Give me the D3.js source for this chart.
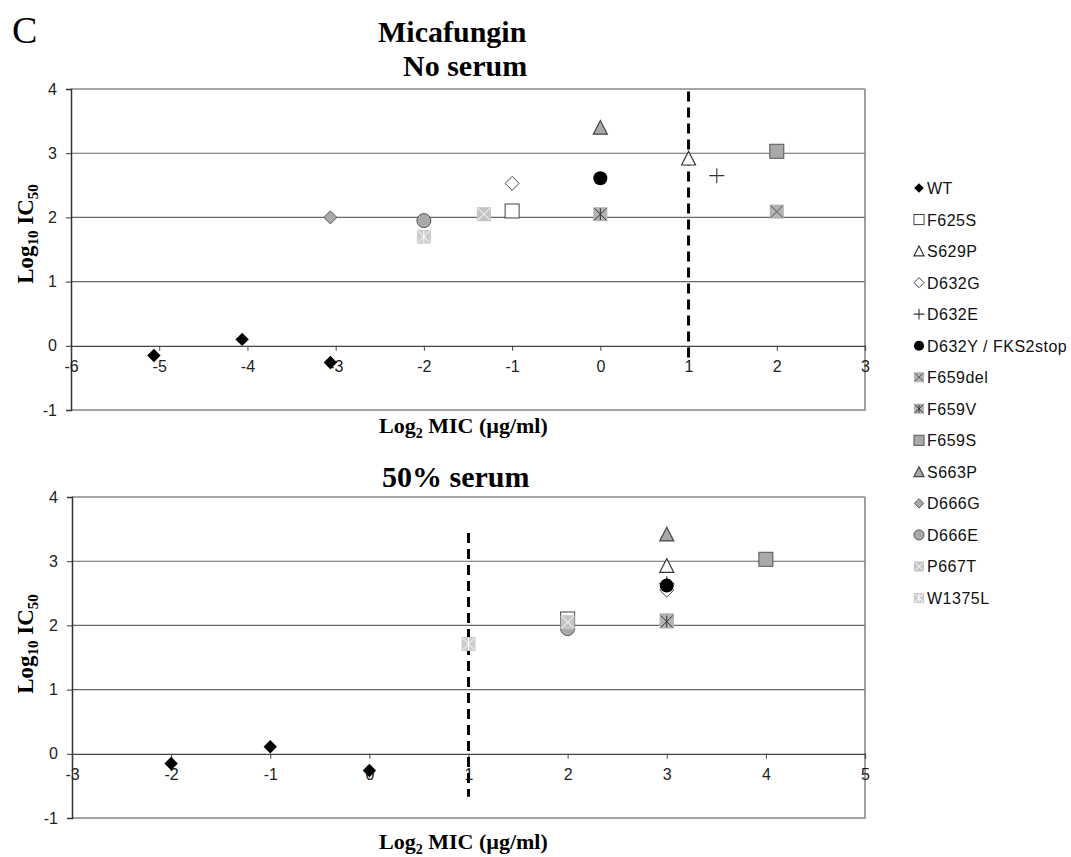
<!DOCTYPE html>
<html>
<head>
<meta charset="utf-8">
<script src="https://cdnjs.cloudflare.com/ajax/libs/d3/7.8.5/d3.min.js"></script>
<style>
  body { margin: 0; background: #fff; }
  .tick text { font-family: "Liberation Sans", Arial, sans-serif; font-size: 16px; fill: #222; }
  .serif { font-family: "Liberation Serif", "Times New Roman", serif; }
</style>
</head>
<body>
<div id="chart"></div>
<script>
// series names, in legend order (drawing order too)
const seriesNames = ['WT', 'F625S', 'S629P', 'D632G', 'D632E', 'D632Y / FKS2stop', 'F659del',
  'F659V', 'F659S', 'S663P', 'D666G', 'D666E', 'P667T', 'W1375L']

// wild type strains (three isolates)
const wtNoSerumX = [-5.06, -4.06, -3.06]
const wtNoSerumY = [-0.15, 0.10, -0.26]
const wtSerumX = [-2, -1, 0]
const wtSerumY = [-0.15, 0.11, -0.26]

// mutants F625S .. W1375L (seriesNames[1..13])
const mutNoSerumX = [-1, 1, -1, 1.32, 0, 2, 0, 2, 0, -3.06, -2, -1.32, -2]
const mutNoSerumY = [2.10, 2.92, 2.53, 2.65, 2.61, 2.09, 2.05, 3.03, 3.40, 2.00, 1.95, 2.05, 1.70]
const mutSerumX = [2, 3, 3, 3, 3, 3, 3, 4, 3, 2, 2, 2, 1]
const mutSerumY = [2.10, 2.93, 2.55, 2.65, 2.62, 2.08, 2.06, 3.03, 3.42, 2.00, 1.95, 2.05, 1.71]

// breakpoint lines
const breakNoSerum = { x: 1, y0: -0.22, y1: 3.96 }
const breakSerum = { x: 1, y0: -0.67, y1: 3.44 }

const yTicks = [-1, 0, 1, 2, 3, 4]
const xTicksNoSerum = [-6, -5, -4, -3, -2, -1, 0, 1, 2, 3]
const xTicksSerum = [-3, -2, -1, 0, 1, 2, 3, 4, 5]

// marker look for each series
const markerStyle = {
  'WT': { shape: 'diamond', fill: '#000', stroke: 'none', size: 6.7 },
  'F625S': { shape: 'square', fill: '#fff', stroke: '#444', size: 7 },
  'S629P': { shape: 'triangle', fill: '#fff', stroke: '#333', size: 7 },
  'D632G': { shape: 'diamond', fill: '#fff', stroke: '#444', size: 7 },
  'D632E': { shape: 'plus', fill: 'none', stroke: '#333', size: 7.5 },
  'D632Y / FKS2stop': { shape: 'circle', fill: '#000', stroke: 'none', size: 7 },
  'F659del': { shape: 'squareX', fill: '#b4b4b4', stroke: '#555', size: 7 },
  'F659V': { shape: 'squareStar', fill: '#b4b4b4', stroke: '#333', size: 7 },
  'F659S': { shape: 'square', fill: '#a9a9a9', stroke: '#555', size: 7 },
  'S663P': { shape: 'triangle', fill: '#a9a9a9', stroke: '#444', size: 7 },
  'D666G': { shape: 'diamond', fill: '#a9a9a9', stroke: '#555', size: 6.5 },
  'D666E': { shape: 'circle', fill: '#a9a9a9', stroke: '#555', size: 7 },
  'P667T': { shape: 'squareX', fill: '#c4c4c4', stroke: '#fff', size: 7 },
  'W1375L': { shape: 'squareStar', fill: '#cccccc', stroke: '#fff', size: 7 }
}

const width = 1071, height = 857

const svg = d3.select('#chart').append('svg')
  .attr('width', width)
  .attr('height', height)

function drawMarker(g, name, cx, cy, k) {
  const st = markerStyle[name]
  const s = st.size * k
  const m = g.append('g').attr('transform', `translate(${cx},${cy})`)
  if (st.shape === 'diamond') {
    m.append('path').attr('d', `M0,${-s}L${s},0L0,${s}L${-s},0Z`)
      .attr('fill', st.fill).attr('stroke', st.stroke).attr('stroke-width', 1)
  } else if (st.shape === 'circle') {
    m.append('circle').attr('r', s).attr('fill', st.fill).attr('stroke', st.stroke).attr('stroke-width', 1)
  } else if (st.shape === 'triangle') {
    m.append('path').attr('d', `M0,${-s}L${s},${s * 0.95}L${-s},${s * 0.95}Z`)
      .attr('fill', st.fill).attr('stroke', st.stroke).attr('stroke-width', 1.2)
  } else if (st.shape === 'plus') {
    m.append('path').attr('d', `M${-s},0H${s}M0,${-s}V${s}`)
      .attr('stroke', st.stroke).attr('stroke-width', 1.1)
  } else {
    m.append('rect').attr('x', -s).attr('y', -s).attr('width', 2 * s).attr('height', 2 * s)
      .attr('fill', st.fill)
      .attr('stroke', (st.shape === 'square') ? st.stroke : 'none')
      .attr('stroke-width', 1)
    if (st.shape === 'squareX' || st.shape === 'squareStar') {
      const d = s - 1
      let p = `M${-d},${-d}L${d},${d}M${d},${-d}L${-d},${d}`
      if (st.shape === 'squareStar') p += `M0,${-d}V${d}`
      m.append('path').attr('d', p).attr('stroke', st.stroke).attr('stroke-width', 1)
    }
  }
}

function drawPanel(opt) {
  const x = d3.scaleLinear().domain(opt.xDomain).range([opt.left, opt.right])
  const y = d3.scaleLinear().domain([-1, 4]).range([opt.bottom, opt.top])
  const g = svg.append('g')

  // horizontal gridlines
  g.selectAll('line.grid')
    .data([1, 2, 3, 4])
    .enter()
    .append('line')
    .attr('class', 'grid')
    .attr('x1', opt.left).attr('x2', opt.right)
    .attr('y1', d => y(d)).attr('y2', d => y(d))
    .style('stroke', d => d === 4 ? '#8a8a8a' : '#666')
    .style('stroke-width', d => d === 4 ? 1.6 : 1.1)

  // plot frame (right and bottom)
  g.append('path')
    .attr('d', `M${opt.right},${y(4)}V${y(-1)}H${opt.left}`)
    .attr('fill', 'none')
    .style('stroke', '#888')
    .style('stroke-width', 1.6)

  // y axis
  const yAxis = g.append('g')
    .attr('transform', `translate(${opt.left},0)`)
    .call(d3.axisLeft(y).tickValues(yTicks).tickSize(5).tickPadding(9).tickFormat(d => String(d)))
  yAxis.select('.domain').style('stroke', '#333').style('stroke-width', 1.5)
  yAxis.selectAll('.tick line').style('stroke', '#333')

  // x axis crosses at y = 0
  const xAxis = g.append('g')
    .attr('transform', `translate(0,${y(0)})`)
    .call(d3.axisBottom(x).tickValues(opt.xTicks).tickSize(5).tickPadding(10).tickFormat(d => String(d)))
  xAxis.select('.domain').style('stroke', '#444').style('stroke-width', 1.2)
  xAxis.selectAll('.tick line').style('stroke', '#444')

  // breakpoint
  g.append('line')
    .attr('x1', x(opt.brk.x)).attr('x2', x(opt.brk.x))
    .attr('y1', y(opt.brk.y1)).attr('y2', y(opt.brk.y0))
    .style('stroke', '#000')
    .style('stroke-width', 3)
    .style('stroke-dasharray', '10,6')

  // points
  opt.wtX.forEach((v, i) => drawMarker(g, 'WT', x(v), y(opt.wtY[i]), 1))
  opt.mutX.forEach((v, i) => drawMarker(g, seriesNames[i + 1], x(v), y(opt.mutY[i]), 1))

  // x axis title
  const xt = g.append('text')
    .attr('class', 'serif')
    .attr('x', opt.xTitle[0]).attr('y', opt.xTitle[1])
    .style('font-size', '22px').style('font-weight', 'bold')
  xt.append('tspan').text('Log')
  xt.append('tspan').attr('dy', 5).style('font-size', '14px').text('2')
  xt.append('tspan').attr('dy', -5).text(' MIC (µg/ml)')

  // y axis title
  const yt = g.append('text')
    .attr('class', 'serif')
    .attr('transform', `translate(${opt.yTitle[0]},${opt.yTitle[1]}) rotate(-90)`)
    .attr('text-anchor', 'middle')
    .style('font-size', '23px').style('font-weight', 'bold')
  yt.append('tspan').text('Log')
  yt.append('tspan').attr('dy', 5).style('font-size', '15px').text('10')
  yt.append('tspan').attr('dy', -5).text(' IC')
  yt.append('tspan').attr('dy', 5).style('font-size', '15px').text('50')
}

drawPanel({
  xDomain: [-6, 3], left: 71, right: 865, top: 89, bottom: 410,
  xTicks: xTicksNoSerum, brk: breakNoSerum,
  wtX: wtNoSerumX, wtY: wtNoSerumY, mutX: mutNoSerumX, mutY: mutNoSerumY,
  xTitle: [379, 433], yTitle: [33, 234]
})

drawPanel({
  xDomain: [-3, 5], left: 72, right: 865, top: 497, bottom: 818,
  xTicks: xTicksSerum, brk: breakSerum,
  wtX: wtSerumX, wtY: wtSerumY, mutX: mutSerumX, mutY: mutSerumY,
  xTitle: [379, 849], yTitle: [33, 644]
})

// titles
svg.append('text').attr('class', 'serif').attr('x', 12).attr('y', 43)
  .style('font-size', '38px').text('C')
svg.append('text').attr('class', 'serif').attr('x', 378).attr('y', 42)
  .style('font-size', '30px').style('font-weight', 'bold').text('Micafungin')
svg.append('text').attr('class', 'serif').attr('x', 403).attr('y', 76)
  .style('font-size', '30px').style('font-weight', 'bold').text('No serum')
svg.append('text').attr('class', 'serif').attr('x', 382).attr('y', 487)
  .style('font-size', '30px').style('font-weight', 'bold').text('50% serum')

// legend
const legend = svg.append('g')
const rowY = d3.scalePoint().domain(seriesNames).range([188, 598])
seriesNames.forEach(name => {
  drawMarker(legend, name, 919, rowY(name), 0.72)
  legend.append('text')
    .attr('x', 927).attr('y', rowY(name) + 6)
    .style('font-family', '"Liberation Sans", Arial, sans-serif')
    .style('font-size', '16px')
    .style('letter-spacing', '0.5px')
    .style('fill', '#111')
    .text(name)
})
</script>
</body>
</html>
